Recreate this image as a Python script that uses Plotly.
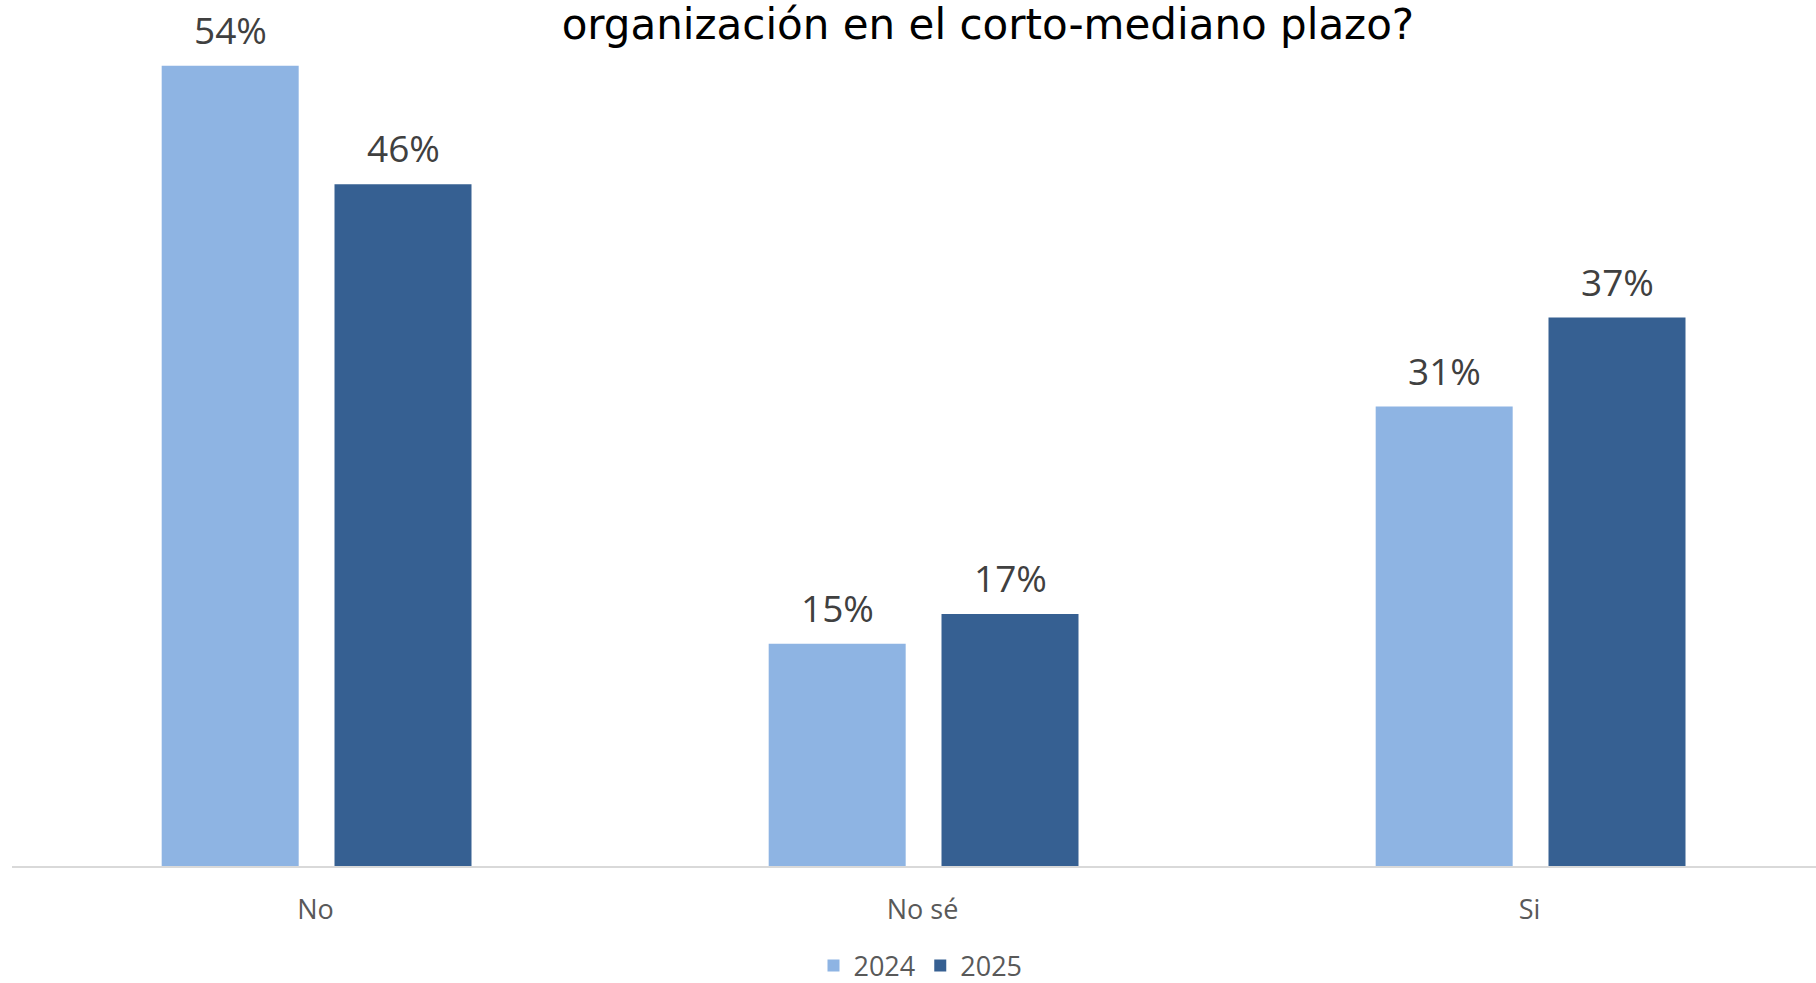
import plotly.graph_objects as go

categories = ["No", "No sé", "Si"]
series_names = ["2024", "2025"]
values_2024 = [54, 15, 31]
values_2025 = [46, 17, 37]
title_text = "organización en el corto-mediano plazo?"

colors = {"2024": "#8EB4E3", "2025": "#366092"}
bar_width = 0.2257
offsets = {"2024": -0.2534, "2025": 0.0313}

fig = go.Figure()
for name, vals in zip(series_names, [values_2024, values_2025]):
    fig.add_trace(go.Bar(
        name=name, x=categories, y=vals,
        width=bar_width, offset=offsets[name],
        marker=dict(color=colors[name], line=dict(width=0)),
        hoverinfo="x+y+name",
    ))
    for i, v in enumerate(vals):
        fig.add_annotation(
            x=i + offsets[name] + bar_width / 2, y=v, xref="x", yref="y",
            text=f"{v}%", showarrow=False, yanchor="bottom", xanchor="center",
            yshift=9,
            font=dict(family="Open Sans", size=37, color="#404040"),
        )

fig.update_layout(
    width=1816, height=983,
    paper_bgcolor="white", plot_bgcolor="white",
    margin=dict(l=12, r=0, t=36, b=117),
    barmode="group",
    title=dict(text=title_text, x=0.544, xref="container", xanchor="center",
               y=1 - 24.5 / 983, yref="container", yanchor="middle",
               font=dict(family="DejaVu Sans", size=42, color="#000000")),
    xaxis=dict(type="category", range=[-0.5, 2.472], showline=True,
               linecolor="#D9D9D9", linewidth=2, showgrid=False,
               ticks="outside", ticklen=19, tickcolor="rgba(0,0,0,0)",
               tickfont=dict(family="Open Sans", size=27, color="#595959")),
    yaxis=dict(range=[0, 56], visible=False, showgrid=False, zeroline=False),
    showlegend=True,
    legend=dict(orientation="h", x=0.5036, xanchor="center", xref="paper",
                y=1 - 966 / 983, yref="container", yanchor="middle",
                font=dict(family="Open Sans", size=27, color="#595959"),
                itemwidth=30, tracegroupgap=0),
)

fig.write_html("out.html", config={"displayModeBar": False},
               post_script="document.body.style.margin='0';document.body.style.overflow='hidden';")
